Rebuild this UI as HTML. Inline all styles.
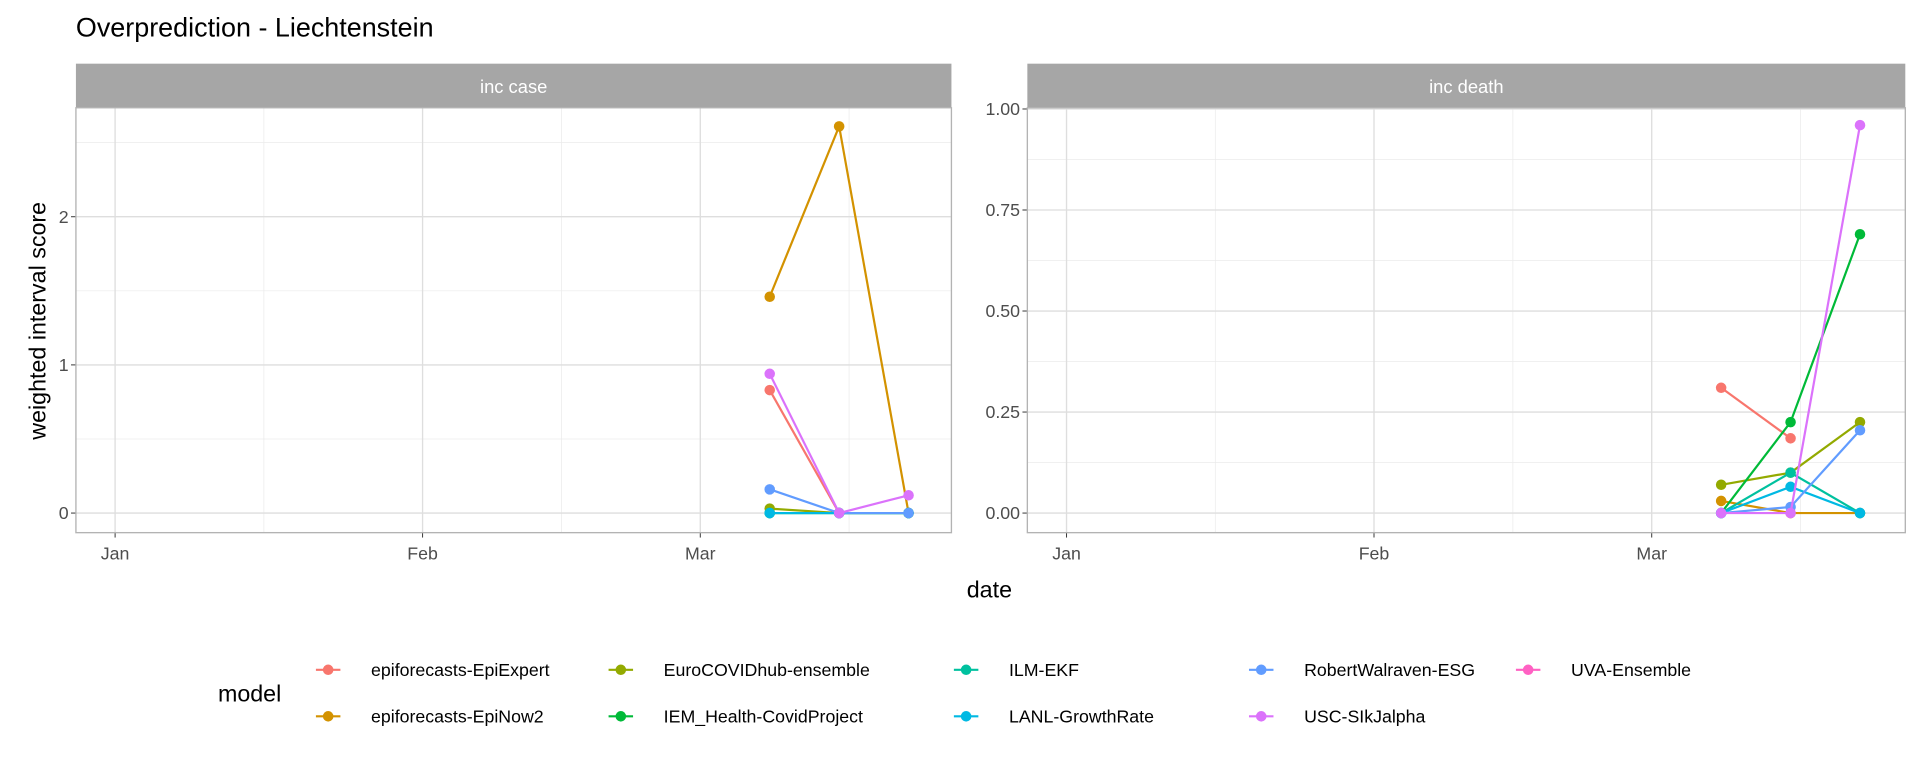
<!DOCTYPE html>
<html><head><meta charset="utf-8"><style>
body{margin:0;background:#fff}
svg{display:block;font-family:"Liberation Sans",sans-serif}
</style></head><body>
<svg id="chart" width="1920" height="768" viewBox="0 0 1568 627.2" xmlns="http://www.w3.org/2000/svg">
<text x="62" y="30" font-size="22" fill="#000">Overprediction - Liechtenstein</text>
<g id="panels"></g>
<text x="808" y="488" font-size="19" text-anchor="middle" fill="#000">date</text>
<text transform="translate(37,262) rotate(-90)" font-size="19" text-anchor="middle" fill="#000">weighted interval score</text>
<g id="legend"></g>
</svg>
<script>
const models=["epiforecasts-EpiExpert","epiforecasts-EpiNow2","EuroCOVIDhub-ensemble","IEM_Health-CovidProject","ILM-EKF","LANL-GrowthRate","RobertWalraven-ESG","USC-SIkJalpha","UVA-Ensemble"];
const colors=["#F8766D","#D39200","#93AA00","#00BA38","#00C19F","#00B9E3","#619CFF","#DB72FB","#FF61C3"];
const dates=["2021-03-08","2021-03-15","2021-03-22"];
const caseValues=[[0.83,0,null],[1.46,2.61,0],[0.03,0,0],[0,0,0],[0,0,0],[0,0,0],[0.16,0,0],[0.94,0,0.12],[null,null,null]];
const deathValues=[[0.31,0.185,null],[0.03,0,0],[0.07,0.10,0.225],[0,0.225,0.69],[0,0.10,0],[0,0.065,0],[0,0.015,0.205],[0,0,0.96],[null,null,null]];
const caseTicks=[0,1,2];
const deathTicks=[0,0.25,0.5,0.75,1.0];
const deathTickLabels=["0.00","0.25","0.50","0.75","1.00"];
const monthTicks=["2021-01-01","2021-02-01","2021-03-01"];
const monthLabels=["Jan","Feb","Mar"];
const minorTicks=["2021-01-16","2021-02-15","2021-03-16"];
const NS="http://www.w3.org/2000/svg";
function mk(p,t,a,txt){const e=document.createElementNS(NS,t);for(const k in a)e.setAttribute(k,a[k]);if(txt!=null)e.textContent=txt;p.appendChild(e);return e;}
const day=86400000, d0=Date.parse("2021-01-01");
function drawPanel(x0,x1,title,vals,ticks,labels,ymax,minorY,key){
  const top=88,bot=435,g=mk(document.getElementById('panels'),'g',{});
  
  
  const px0=94+(x0-62);
  const xs=d=>px0+(Date.parse(d)-d0)/day*8.1;
  const y0=419, ppu=(419-89)/ymax;
  const ys=v=>y0-v*ppu;
  const s=mk(g,'rect',{x:x0,y:52,width:x1-x0,height:36,fill:'#A6A6A6'});
  
  const st=mk(g,'text',{x:(x0+x1)/2,y:76,'font-size':15,fill:'#fff','text-anchor':'middle'},title);
  
  minorY.forEach(v=>mk(g,'line',{x1:x0,x2:x1,y1:ys(v),y2:ys(v),stroke:'#ebebeb','stroke-width':0.6}));
  minorTicks.forEach(d=>mk(g,'line',{x1:xs(d),x2:xs(d),y1:top,y2:bot,stroke:'#ebebeb','stroke-width':0.6}));
  ticks.forEach((v,i)=>{mk(g,'line',{x1:x0,x2:x1,y1:ys(v),y2:ys(v),stroke:'#dedede','stroke-width':1.1});
    const t=mk(g,'text',{x:x0-6,y:ys(v)+5,'font-size':14.5,fill:'#4d4d4d','text-anchor':'end'},labels[i]);
    
    mk(g,'line',{x1:x0-4,x2:x0,y1:ys(v),y2:ys(v),stroke:'#333','stroke-width':0.8});});
  monthTicks.forEach((d,i)=>{mk(g,'line',{x1:xs(d),x2:xs(d),y1:top,y2:bot,stroke:'#dedede','stroke-width':1.1});
    mk(g,'line',{x1:xs(d),x2:xs(d),y1:bot,y2:bot+4,stroke:'#333','stroke-width':0.8});
    const t=mk(g,'text',{x:xs(d),y:bot+22,'font-size':14.5,fill:'#4d4d4d','text-anchor':'middle'},monthLabels[i]);
    });
  mk(g,'rect',{x:x0,y:top,width:x1-x0,height:bot-top,fill:'none',stroke:'#b3b3b3','stroke-width':1.1});
  vals.forEach((ser,m)=>{
    let pts=[];ser.forEach((v,i)=>{if(v!=null)pts.push([xs(dates[i]),ys(v)]);});
    if(!pts.length)return;
    const pl=mk(g,'polyline',{points:pts.map(p=>p.join(',')).join(' '),fill:'none',stroke:colors[m],'stroke-width':1.8});
    
    pts.forEach(p=>{const c=mk(g,'circle',{cx:p[0],cy:p[1],r:4.3,fill:colors[m]});
      });
  });
}
drawPanel(62,777,"inc case",caseValues,caseTicks,caseTicks.map(String),(419-89)/121,[0.5,1.5,2.5],'inc-case');
drawPanel(839,1556,"inc death",deathValues,deathTicks,deathTickLabels,1.0,[0.125,0.375,0.625,0.875],'inc-death');
const lg=document.getElementById('legend');
const lt=mk(lg,'text',{x:178,y:573,'font-size':19,fill:'#000'},'model');

const colX=[268,507,789,1030,1248];
models.forEach((m,i)=>{const cx=colX[Math.floor(i/2)],cy=(i%2?585:547);
  const e=mk(lg,'g',{});
  
  mk(e,'line',{x1:cx-10,x2:cx+10,y1:cy,y2:cy,stroke:colors[i],'stroke-width':1.8});
  mk(e,'circle',{cx:cx,cy:cy,r:4.3,fill:colors[i]});
  mk(e,'text',{x:cx+35,y:cy+5,'font-size':14.5,fill:'#000'},m);
});
</script>
</body></html>
